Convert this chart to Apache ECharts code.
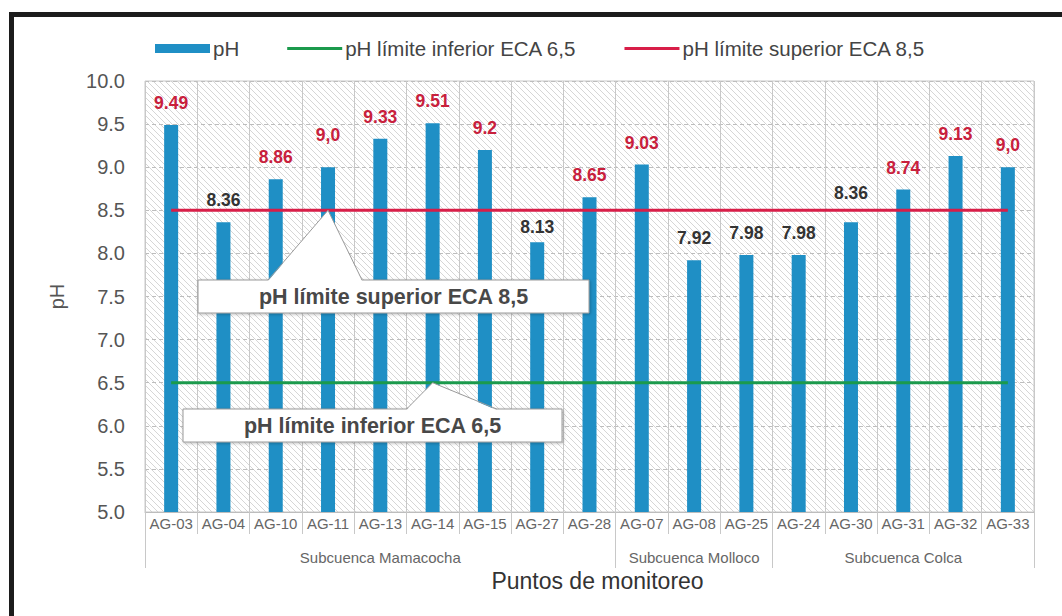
<!DOCTYPE html>
<html>
<head>
<meta charset="utf-8">
<script src="https://cdn.jsdelivr.net/npm/echarts@6/dist/echarts.min.js"></script>
<style>
  html, body { margin: 0; padding: 0; background: #fff; }
  #chart { width: 1062px; height: 616px; }
</style>
</head>
<body>
<div id="chart"></div>
<script>
// datos
const puntos = ['AG-03', 'AG-04', 'AG-10', 'AG-11', 'AG-13', 'AG-14', 'AG-15', 'AG-27', 'AG-28',
  'AG-07', 'AG-08', 'AG-25', 'AG-24', 'AG-30', 'AG-31', 'AG-32', 'AG-33'];
const valoresPH = [9.49, 8.36, 8.86, 9.0, 9.33, 9.51, 9.2, 8.13, 8.65, 9.03, 7.92, 7.98, 7.98, 8.36, 8.74, 9.13, 9.0];
const limiteInferior = [6.5, 6.5, 6.5, 6.5, 6.5, 6.5, 6.5, 6.5, 6.5, 6.5, 6.5, 6.5, 6.5, 6.5, 6.5, 6.5, 6.5];
const limiteSuperior = [8.5, 8.5, 8.5, 8.5, 8.5, 8.5, 8.5, 8.5, 8.5, 8.5, 8.5, 8.5, 8.5, 8.5, 8.5, 8.5, 8.5];
const subcuencas = ['Subcuenca Mamacocha', 'Subcuenca Molloco', 'Subcuenca Colca'];
const inicioSubcuenca = [0, 9, 12]; // primer punto de cada subcuenca
const nombreInferior = 'pH límite inferior ECA 6,5';
const nombreSuperior = 'pH límite superior ECA 8,5';

// ajuste vertical de algunas etiquetas (px)
const ajusteEtiqueta = [0, 0, 0, 10, 0, 0, 0, -7, 0, 0, 0, 0, 0, 7, 0, 0, 0];

const FUENTE = 'Liberation Sans, Arial, sans-serif';

// punto central de cada subcuenca, para poner su nombre
const medios = inicioSubcuenca.map((s, k) => {
  const fin = (k + 1 < inicioSubcuenca.length ? inicioSubcuenca[k + 1] : puntos.length) - 1;
  return Math.floor((s + fin) / 2);
});

// fondo rayado del area del grafico
function rayado() {
  const c = document.createElement('canvas');
  c.width = 6; c.height = 6;
  const g = c.getContext('2d');
  g.fillStyle = '#ffffff';
  g.fillRect(0, 0, 6, 6);
  g.strokeStyle = '#d6d6d6';
  g.lineWidth = 1;
  g.beginPath();
  g.moveTo(-1, -1); g.lineTo(7, 7);
  g.moveTo(-1, 5); g.lineTo(1, 7);
  g.moveTo(5, -1); g.lineTo(7, 1);
  g.stroke();
  return c;
}

const iconoLinea = 'path://M0,0H55V3H0Z';

const chart = echarts.init(document.getElementById('chart'), null, { renderer: 'svg' });

chart.setOption({
  animation: false,
  textStyle: { fontFamily: FUENTE },
  legend: {
    top: 33,
    left: 150,
    itemWidth: 55,
    itemHeight: 9,
    itemGap: 48,
    textStyle: { fontSize: 20.5, color: '#444', padding: [0, 0, 0, -2] },
    data: [
      { name: 'pH', icon: 'rect' },
      { name: nombreInferior, icon: iconoLinea },
      { name: nombreSuperior, icon: iconoLinea }
    ]
  },
  grid: {
    left: 145,
    right: 28,
    top: 81,
    bottom: 104,
    show: true,
    borderColor: '#c8c8c8',
    borderWidth: 1,
    backgroundColor: { image: rayado(), repeat: 'repeat', imageWidth: 6, imageHeight: 6 }
  },
  xAxis: [
    {
      type: 'category',
      data: puntos,
      position: 'bottom',
      axisLine: { lineStyle: { color: '#bdbdbd' } },
      axisTick: { show: true, length: 22, lineStyle: { color: '#c8c8c8' } },
      axisLabel: { fontSize: 15, color: '#666', margin: 4, interval: 0 },
      splitLine: { show: true, lineStyle: { color: '#c8c8c8', width: 1 } }
    },
    {
      type: 'category',
      data: puntos,
      position: 'bottom',
      offset: 22,
      axisLine: { show: false },
      axisTick: {
        show: true,
        length: 34,
        interval: (i) => inicioSubcuenca.includes(i),
        lineStyle: { color: '#c8c8c8' }
      },
      axisLabel: {
        fontSize: 15,
        color: '#666',
        margin: 16,
        interval: (i) => medios.includes(i),
        formatter: (v, i) => {
          const k = medios.indexOf(i);
          return k >= 0 ? subcuencas[k] : '';
        }
      },
      splitLine: { show: false },
      name: 'Puntos de monitoreo',
      nameLocation: 'middle',
      nameGap: 33,
      nameTextStyle: { fontSize: 23, color: '#333', padding: [0, 0, 0, 16] }
    }
  ],
  yAxis: {
    type: 'value',
    min: 5,
    max: 10,
    interval: 0.5,
    name: 'pH',
    nameLocation: 'middle',
    nameGap: 78,
    nameTextStyle: { fontSize: 20, color: '#555' },
    axisLine: { show: false },
    axisTick: { show: false },
    axisLabel: { fontSize: 20, color: '#555', margin: 20, formatter: (v) => v.toFixed(1) },
    splitLine: { lineStyle: { color: '#bdbdbd', type: [4, 3] } }
  },
  series: [
    {
      name: 'pH',
      type: 'bar',
      barWidth: 14,
      itemStyle: { color: '#1f8fc5' },
      label: {
        show: true,
        position: 'top',
        fontSize: 17.5,
        fontWeight: 'bold',
        formatter: (p) => Number.isInteger(p.value) ? p.value + ',0' : String(p.value)
      },
      data: valoresPH.map((v, i) => ({
        value: v,
        label: { distance: 13 + ajusteEtiqueta[i], color: v > 8.5 ? '#c8203c' : '#333' }
      })),
      z: 2
    },
    {
      name: nombreInferior,
      type: 'line',
      data: limiteInferior,
      symbol: 'none',
      lineStyle: { color: '#1b9a4c', width: 3 },
      itemStyle: { color: '#1b9a4c' },
      z: 3
    },
    {
      name: nombreSuperior,
      type: 'line',
      data: limiteSuperior,
      symbol: 'none',
      lineStyle: { color: '#d81e48', width: 3 },
      itemStyle: { color: '#d81e48' },
      z: 3
    }
  ]
});

// cuadros de texto con flecha hacia cada limite
function cuadro(texto, punta, caja, base) {
  const t = chart.convertToPixel({ xAxisIndex: 0, yAxisIndex: 0 }, punta);
  const y0 = caja.y;
  const linea = { stroke: '#9a9a9a', lineWidth: 1 };
  return [
    {
      type: 'rect',
      z: 100,
      shape: { x: caja.x, y: caja.y, width: caja.w, height: caja.h },
      style: { fill: '#fff', stroke: '#9a9a9a', lineWidth: 1, shadowBlur: 3, shadowColor: 'rgba(0,0,0,0.25)', shadowOffsetX: 1, shadowOffsetY: 1 }
    },
    {
      type: 'polygon',
      z: 101,
      shape: { points: [[t[0], t[1]], [t[0] + base[0], y0 + 1], [t[0] + base[1], y0 + 1]] },
      style: { fill: '#fff' }
    },
    {
      type: 'polyline',
      z: 102,
      shape: { points: [[t[0] + base[0], y0], [t[0], t[1]], [t[0] + base[1], y0]] },
      style: Object.assign({ fill: null }, linea)
    },
    {
      type: 'text',
      z: 103,
      x: caja.x + caja.w / 2,
      y: caja.y + caja.h / 2,
      style: {
        text: texto,
        fontFamily: FUENTE,
        fontSize: 21.5,
        fontWeight: 'bold',
        fill: '#484848',
        align: 'center',
        verticalAlign: 'middle'
      }
    }
  ];
}

chart.setOption({
  graphic: [
    // marco del recuadro
    { type: 'rect', shape: { x: 9, y: 12, width: 1053, height: 5 }, style: { fill: '#1c1c1c' } },
    { type: 'rect', shape: { x: 9, y: 12, width: 5, height: 604 }, style: { fill: '#1c1c1c' } },
    ...cuadro(nombreSuperior, ['AG-11', 8.5], { x: 198, y: 280, w: 391, h: 33 }, [-60, 34]),
    ...cuadro(nombreInferior, ['AG-14', 6.5], { x: 183, y: 409, w: 379, h: 33 }, [-26, 64])
  ]
});
</script>
</body>
</html>
